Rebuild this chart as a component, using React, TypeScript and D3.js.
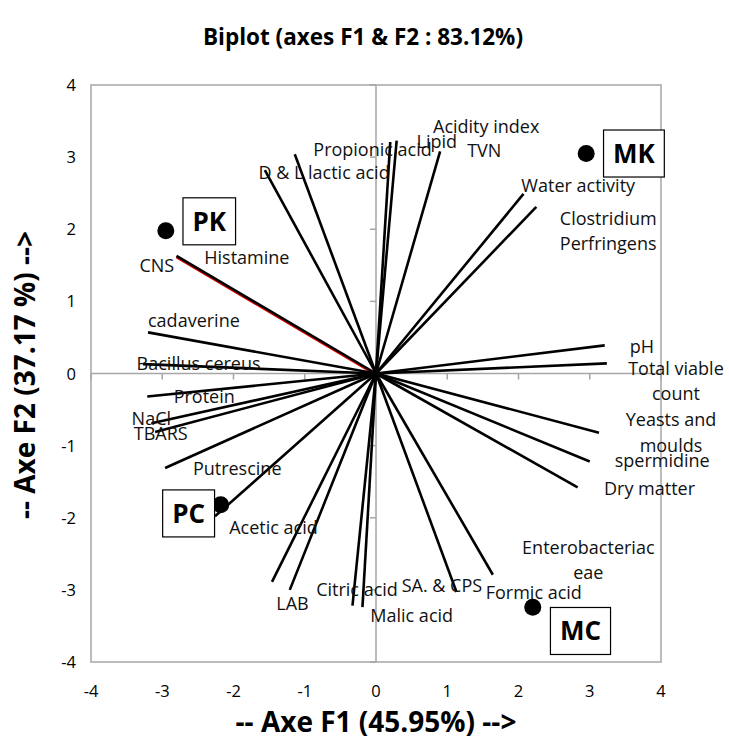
import React, { useEffect, useRef } from 'react';
import * as d3 from 'd3';

// ---- data ----
const xTicks = [-4, -3, -2, -1, 0, 1, 2, 3, 4];
const yTicks = [-4, -3, -2, -1, 0, 1, 2, 3, 4];

// variable vectors (F1, F2); first one drawn in red underneath
const vecNames = ['Histamine', 'CNS', 'cadaverine', 'Bacillus cereus', 'Protein', 'NaCl', 'TBARS', 'Putrescine', 'Acetic acid', 'LAB', 'Citric acid', 'Malic acid', 'SA. & CPS', 'Formic acid', 'Enterobacteriaceae', 'Dry matter', 'spermidine', 'Yeasts and moulds', 'Total viable count', 'pH', 'Clostridium Perfringens', 'Water activity', 'TVN', 'Lipid', 'Acidity index', 'Propionic acid', 'D & L lactic acid'];
const vecF1 = [-2.80, -2.80, -3.20, -3.27, -3.21, -3.15, -3.10, -2.96, -2.26, -1.21, -0.33, -0.19, 1.13, 1.64, -1.46, 2.83, 3.00, 3.13, 3.24, 3.21, 2.25, 2.07, 0.90, 0.29, 0.20, -1.14, -1.56];
const vecF2 = [1.63, 1.63, 0.57, 0.13, -0.32, -0.69, -0.81, -1.31, -1.98, -3.00, -3.22, -3.24, -3.03, -2.79, -2.89, -1.58, -1.22, -0.82, 0.14, 0.39, 2.31, 2.49, 3.08, 3.23, 3.21, 3.04, 2.82];

// variable labels (anchor in F1/F2 units, baseline of first line)
const labTexts = ['CNS', 'Histamine', 'cadaverine', 'Bacillus cereus', 'Protein', 'NaCl', 'TBARS', 'Putrescine', 'Acetic acid', 'LAB', 'Citric acid', 'Malic acid', 'SA. & CPS', 'Formic acid', 'Enterobacteriac|eae', 'Dry matter', 'spermidine', 'Yeasts and|moulds', 'Total viable|count', 'pH', 'Clostridium|Perfringens', 'Water activity', 'TVN', 'Acidity index', 'Lipid', 'Propionic acid', 'D & L lactic acid'];
const labF1 = [-3.32, -2.41, -3.20, -3.36, -2.84, -3.43, -3.40, -2.57, -2.06, -1.40, -0.84, -0.08, 0.36, 1.54, 2.98, 3.20, 3.35, 4.14, 4.21, 3.56, 2.58, 2.04, 1.28, 0.80, 0.57, -0.88, -1.65];
const labF2 = [1.41, 1.52, 0.65, 0.05, -0.41, -0.71, -0.92, -1.41, -2.23, -3.28, -3.08, -3.44, -3.03, -3.12, -2.50, -1.68, -1.29, -0.73, -0.02, 0.28, 2.06, 2.51, 3.00, 3.33, 3.13, 3.01, 2.70];
const labAnchor = ['start', 'start', 'start', 'start', 'start', 'start', 'start', 'start', 'start', 'start', 'start', 'start', 'start', 'start', 'middle', 'start', 'start', 'middle', 'middle', 'start', 'start', 'start', 'start', 'start', 'start', 'start', 'start'];

// observations
const obsNames = ['PK', 'MK', 'PC', 'MC'];
const obsF1 = [-2.95, 2.95, -2.18, 2.20];
const obsF2 = [1.98, 3.05, -1.82, -3.24];
const obsBoxF1 = [-2.34, 3.62, -2.63, 2.87];
const obsBoxF2 = [2.11, 3.05, -1.94, -3.57];

const title = 'Biplot (axes F1 & F2 : 83.12%)';
const xTitle = '-- Axe F1 (45.95%) -->';
const yTitle = '-- Axe F2 (37.17 %) -->';

const W = 729;
const H = 746;
const FONT = "'Open Sans', sans-serif";

export default function App() {
  const ref = useRef<SVGSVGElement>(null);
  useEffect(() => {
    const svg = d3.select(ref.current);
    svg.selectAll('*').remove();
    const x = d3.scaleLinear().domain([-4, 4]).range([91, 661]);
    const y = d3.scaleLinear().domain([-4, 4]).range([662, 85]);
    const grey = '#a6a6a6';

    svg.append('rect').attr('width', W).attr('height', H).attr('fill', '#fff');

    // title
    svg.append('text').attr('x', 363).attr('y', 45).attr('text-anchor', 'middle')
      .attr('font-family', FONT).attr('font-weight', 700).attr('font-size', 22.5).text(title);

    // frame
    svg.append('rect').attr('x', x(-4)).attr('y', y(4)).attr('width', x(4) - x(-4)).attr('height', y(-4) - y(4))
      .attr('fill', 'none').attr('stroke', grey).attr('stroke-width', 1.5);

    // zero axes
    svg.append('line').attr('x1', x(-4)).attr('x2', x(4)).attr('y1', y(0)).attr('y2', y(0)).attr('stroke', grey).attr('stroke-width', 1.5);
    svg.append('line').attr('x1', x(0)).attr('x2', x(0)).attr('y1', y(-4)).attr('y2', y(4)).attr('stroke', grey).attr('stroke-width', 1.5);
    // ticks
    svg.append('g').selectAll('line').data(xTicks).join('line')
      .attr('x1', d => x(d)).attr('x2', d => x(d)).attr('y1', y(0)).attr('y2', y(0) + 6)
      .attr('stroke', grey).attr('stroke-width', 1.5);
    svg.append('g').selectAll('line').data(yTicks).join('line')
      .attr('x1', x(0) - 6).attr('x2', x(0)).attr('y1', d => y(d)).attr('y2', d => y(d))
      .attr('stroke', grey).attr('stroke-width', 1.5);

    // tick labels
    svg.append('g').selectAll('text').data(xTicks).join('text')
      .attr('x', d => x(d)).attr('y', 697).attr('text-anchor', 'middle')
      .attr('font-family', FONT).attr('font-size', 16.5).text(d => String(d));
    svg.append('g').selectAll('text').data(yTicks).join('text')
      .attr('x', 76).attr('y', d => y(d) + 6).attr('text-anchor', 'end')
      .attr('font-family', FONT).attr('font-size', 16.5).text(d => String(d));

    // axis titles
    svg.append('text').attr('x', 376).attr('y', 732).attr('text-anchor', 'middle')
      .attr('font-family', FONT).attr('font-weight', 700).attr('font-size', 28).text(xTitle);
    svg.append('text').attr('transform', `translate(35,${375}) rotate(-90)`).attr('text-anchor', 'middle')
      .attr('font-family', FONT).attr('font-weight', 700).attr('font-size', 28).text(yTitle);

    // vectors
    const vec = vecNames.map((n, i) => ({ n, f1: vecF1[i], f2: vecF2[i], i }));
    svg.append('g').selectAll('line').data(vec).join('line')
      .attr('x1', x(0)).attr('y1', d => y(0) + (d.i === 0 ? 1.2 : 0))
      .attr('x2', d => x(d.f1)).attr('y2', d => y(d.f2) + (d.i === 0 ? 1.2 : 0))
      .attr('stroke', d => (d.i === 0 ? '#e00000' : '#000'))
      .attr('stroke-width', 2.6);

    // variable labels
    const lab = labTexts.map((t, i) => ({ t, f1: labF1[i], f2: labF2[i], a: labAnchor[i] }));
    const lt = svg.append('g').selectAll('text').data(lab).join('text')
      .attr('x', d => x(d.f1)).attr('y', d => y(d.f2))
      .attr('text-anchor', d => d.a)
      .attr('font-family', FONT).attr('font-size', 18).attr('fill', '#111');
    lt.each(function (d) {
      const parts = d.t.split('|');
      const el = d3.select(this);
      parts.forEach((p, k) => {
        el.append('tspan').attr('x', x(d.f1)).attr('dy', k === 0 ? 0 : 25.5).text(p);
      });
    });

    // observation points
    const obs = obsNames.map((n, i) => ({ n, f1: obsF1[i], f2: obsF2[i], bx: obsBoxF1[i], by: obsBoxF2[i] }));
    svg.append('g').selectAll('circle').data(obs).join('circle')
      .attr('cx', d => x(d.f1)).attr('cy', d => y(d.f2)).attr('r', 8.5).attr('fill', '#000');

    // boxed labels
    const bg = svg.append('g').selectAll('g').data(obs).join('g');
    bg.each(function (d) {
      const g = d3.select(this);
      const rect = g.append('rect');
      const t = g.append('text').attr('x', x(d.bx)).attr('y', y(d.by) + 9.5)
        .attr('text-anchor', 'middle').attr('font-family', FONT).attr('font-weight', 700)
        .attr('font-size', 26).text(d.n);
      const w = (t.node() as SVGTextElement).getComputedTextLength() + 19;
      const h = 47;
      rect.attr('x', x(d.bx) - w / 2).attr('y', y(d.by) - h / 2).attr('width', w).attr('height', h)
        .attr('fill', '#fff').attr('stroke', '#000').attr('stroke-width', 1.2);
    });
  }, []);
  return <svg ref={ref} width={W} height={H} style={{ position: 'absolute', left: 0, top: 0 }} />;
}
